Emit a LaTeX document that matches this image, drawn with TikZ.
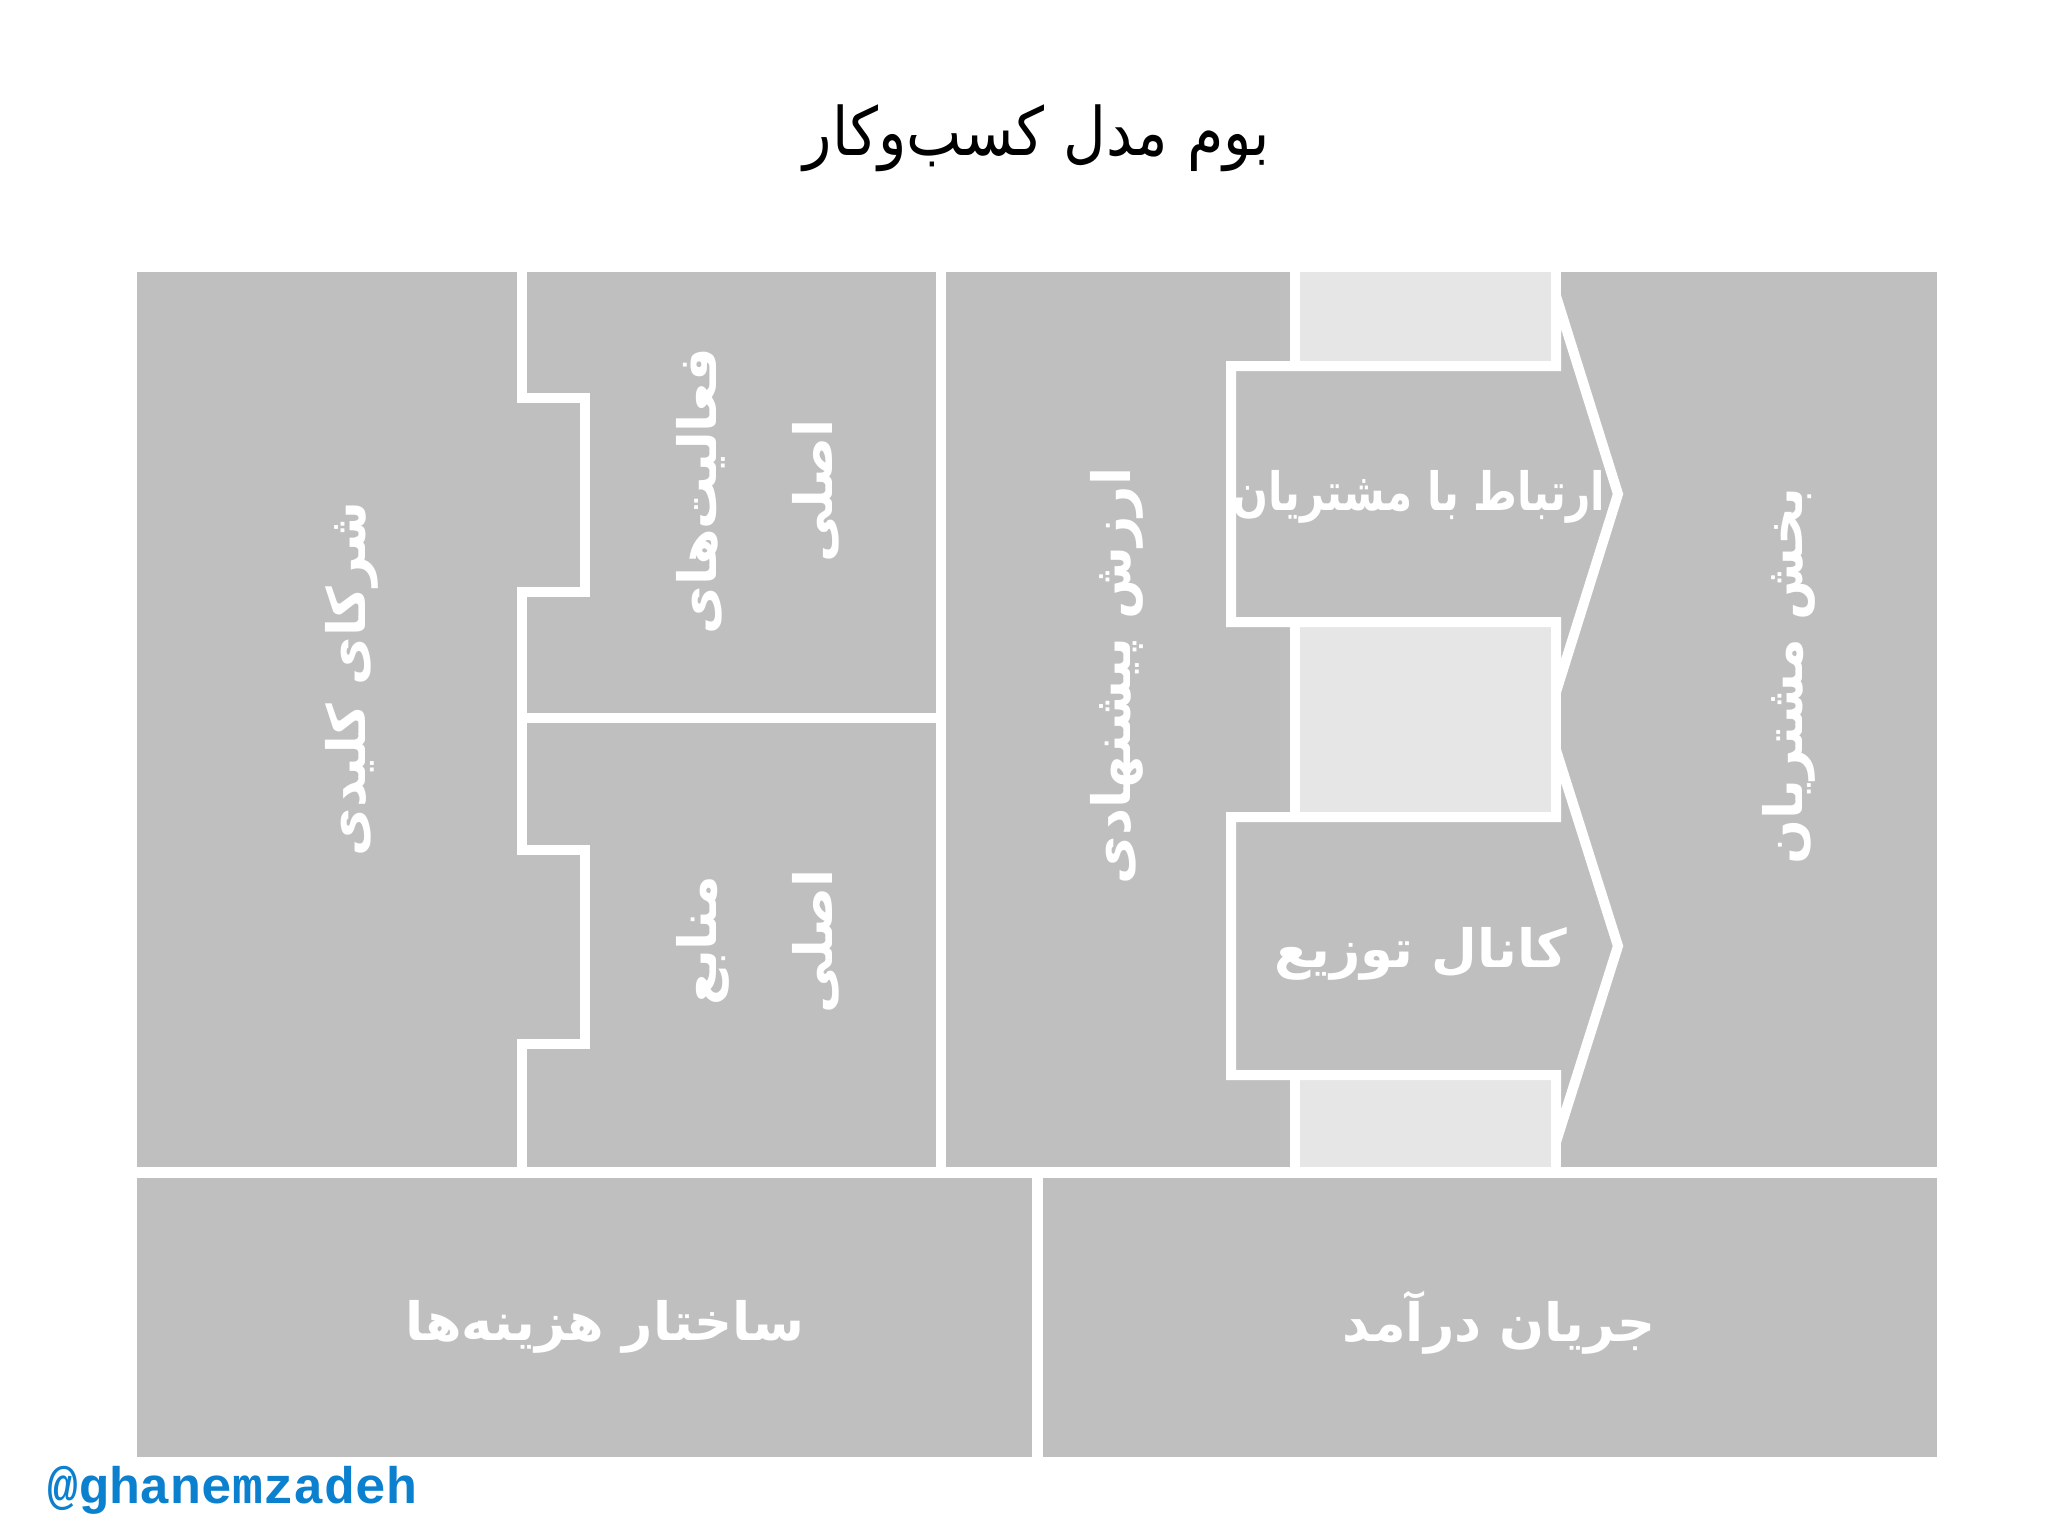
\documentclass[tikz,border=0pt]{standalone}
\usepackage{fontspec}
\newfontfamily\arabicfont[Script=Arabic]{DejaVu Sans}
\newfontfamily\arabicnarrow[Script=Arabic,FakeStretch=0.8]{DejaVu Sans}
\newfontfamily\titlefont[Script=Arabic,FakeStretch=0.88]{DejaVu Sans}
\newfontfamily\handlefont{Liberation Mono}
\TeXXeTstate=1
\definecolor{cellgray}{RGB}{191,191,191}
\definecolor{stripgray}{RGB}{230,230,230}
\definecolor{handleblue}{RGB}{11,128,207}

\begin{document}
\begin{tikzpicture}[x=0.01cm, y=-0.01cm,
        cell/.style={fill=cellgray},
        border/.style={white, line width=1mm},
        box/.style={fill=cellgray, draw=white, line width=1mm, miter limit=2},
        side label/.style={white, rotate=90, align=center,
            font=\arabicfont\bfseries\fontsize{15}{33}\selectfont},
        flat label/.style={white, font=\arabicfont\bfseries\fontsize{15}{18}\selectfont},
        title label/.style={black, anchor=base, font=\titlefont\fontsize{19}{23}\selectfont},
        handle label/.style={handleblue, anchor=base west, font=\handlefont\bfseries\fontsize{14.6}{17}\selectfont}]

    \useasboundingbox (0,0) rectangle (2048,1535);
    \fill[white] (0,0) rectangle (2048,1535);

    % upper block
    \fill[cell] (137,272) rectangle (1937,1167);
    \fill[stripgray] (1295,272) rectangle (1556,1167);
    \draw[border] (1295,272) -- (1295,1167);
    \draw[border] (1556,272) -- (1556,1167);

    % partners edge with the two notches
    \draw[border] (522,272) -- (522,398) -- (585,398) -- (585,592) -- (522,592)
        -- (522,850) -- (585,850) -- (585,1044) -- (522,1044) -- (522,1167);
    \draw[border] (522,718) -- (941,718);
    \draw[border] (941,272) -- (941,1167);

    % relations and channels arrows
    \draw[box] (1231,366) -- (1556,366) -- (1556,296) -- (1618,494)
        -- (1556,692) -- (1556,622) -- (1231,622) -- cycle;
    \draw[box] (1231,817) -- (1556,817) -- (1556,750) -- (1618,946)
        -- (1556,1142) -- (1556,1075) -- (1231,1075) -- cycle;

    % lower block
    \fill[cell] (137,1178) rectangle (1032,1457);
    \fill[cell] (1043,1178) rectangle (1937,1457);

    \node[title label] (title) at (1037,155) {\beginR بوم مدل کسب‌وکار\endR};

    \node[side label] (partners)   at (352,679)  {\beginR شرکای کلیدی\endR};
    \node[side label] (activities) at (758,491)  {\beginR فعالیت‌های\endR\\\beginR اصلی\endR};
    \node[side label] (resources)  at (758,941)  {\beginR منابع\endR\\\beginR اصلی\endR};
    \node[side label] (value)      at (1117,676) {\beginR ارزش پیشنهادی\endR};
    \node[flat label, font=\arabicnarrow\bfseries\fontsize{15}{18}\selectfont]
        (relations) at (1419,497) {\beginR ارتباط با مشتریان\endR};
    \node[flat label] (channels)   at (1421,954) {\beginR کانال توزیع\endR};
    \node[side label] (segments)   at (1789,676) {\beginR بخش مشتریان\endR};
    \node[flat label] (costs)      at (605,1327) {\beginR ساختار هزینه‌ها\endR};
    \node[flat label] (revenue)    at (1499,1323) {\beginR جریان درآمد\endR};

    \node[handle label] (handle) at (35,1503) {@ghanemzadeh};
\end{tikzpicture}
\end{document}
